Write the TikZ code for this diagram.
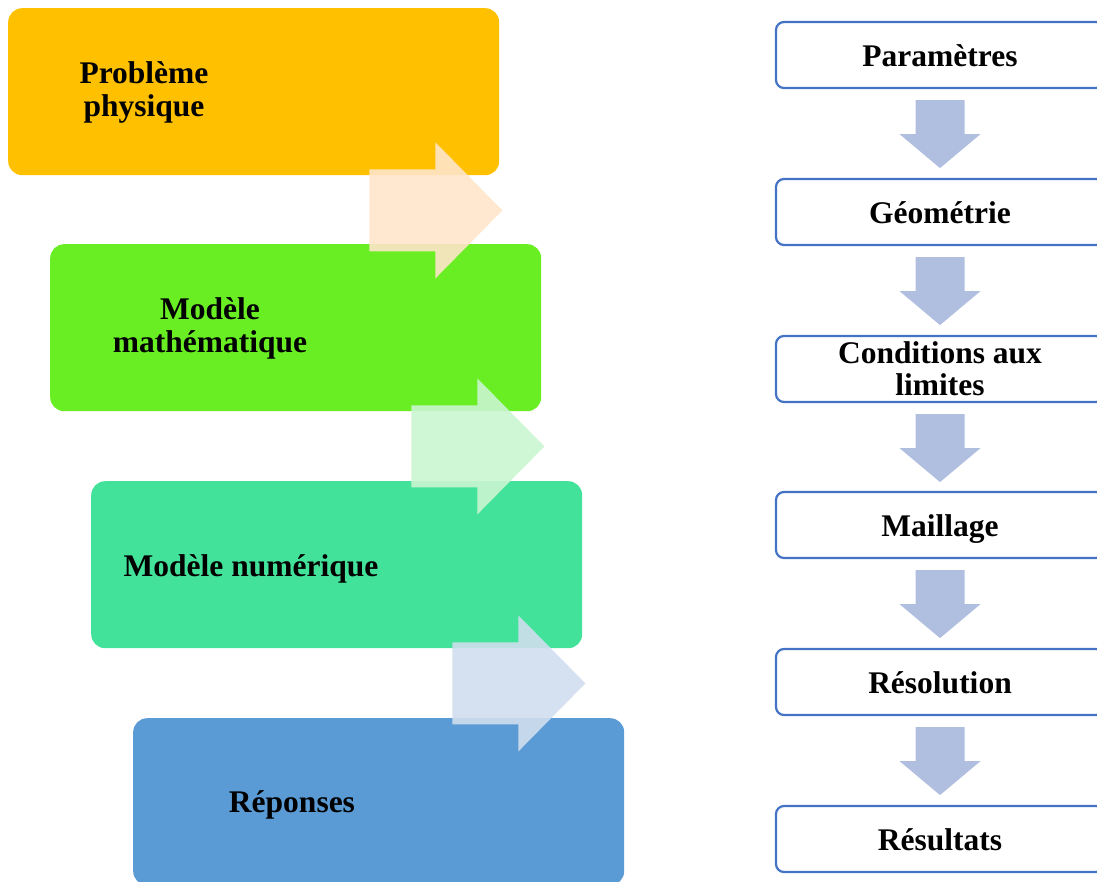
\documentclass[tikz,border=0pt]{standalone}
\usepackage{fontspec}
\setmainfont{Liberation Serif}
\usetikzlibrary{calc}
\definecolor{cOrange}{RGB}{255,192,0}
\definecolor{cGreen}{RGB}{104,238,34}
\definecolor{cTeal}{RGB}{66,226,154}
\definecolor{cBlue}{RGB}{91,155,213}
\definecolor{aPeach}{RGB}{255,229,202}
\definecolor{aMint}{RGB}{202,245,208}
\definecolor{aSky}{RGB}{208,222,238}
\definecolor{rBorder}{RGB}{68,114,196}
\definecolor{dArrow}{RGB}{176,190,224}
\tikzset{
  lbox/.style={rectangle, rounded corners=14pt, draw=none, anchor=north west,
    minimum width=491pt, minimum height=167pt, inner sep=0pt},
  ltext/.style={font=\fontsize{31.5}{33}\selectfont\bfseries, align=center, inner sep=0pt},
  oneline/.style={text height=28.5pt, text depth=5.5pt},
  rbox/.style={rectangle, rounded corners=8pt, draw=rBorder, line width=2.2pt, fill=white,
    minimum width=328pt, minimum height=66pt, inner sep=0pt,
    font=\fontsize{31.5}{32}\selectfont\bfseries, align=center},
  rarrow/.pic={\fill[pic actions] (0,-41) -- (66,-41) -- (66,-68) -- (133,0) -- (66,68) -- (66,41) -- (0,41) -- cycle;},
  darrow/.pic={\fill[dArrow] (-24.5,0) -- (24.5,0) -- (24.5,34) -- (40.5,34) -- (0,68) -- (-40.5,34) -- (-24.5,34) -- cycle;}
}
\begin{document}
\begin{tikzpicture}[x=1pt,y=-1pt]
\useasboundingbox (0,0) rectangle (1097,882);
\clip (0,0) rectangle (1097,882);
% left column boxes
\node[lbox, fill=cOrange] (b1) at (8,8) {};
\node[lbox, fill=cGreen] (b2) at (50,244) {};
\node[lbox, fill=cTeal] (b3) at (91,481) {};
\node[lbox, fill=cBlue] (b4) at (133,718) {};
\node[ltext] (t1) at ($(b1.west)+(136,1)$) {Problème\\physique};
\node[ltext] (t2) at ($(b2.west)+(160,1)$) {Modèle\\mathématique};
\node[ltext, oneline] (t3) at ($(b3.west)+(160,0)$) {Modèle numérique};
\node[ltext, oneline] (t4) at ($(b4.west)+(159,-1)$) {Réponses};
% right-pointing block arrows
\pic[fill=aPeach, fill opacity=0.9] at ($(b1.south east)+(-130,35)$) {rarrow};
\pic[fill=aMint, fill opacity=0.9] at ($(b2.south east)+(-130,35)$) {rarrow};
\pic[fill=aSky, fill opacity=0.9] at ($(b3.south east)+(-130,35)$) {rarrow};
% right column
\node[rbox, oneline] (r1) at (940,55) {Paramètres};
\node[rbox, oneline] (r2) at (940,212) {Géométrie};
\node[rbox] (r3) at (940,369) {Conditions aux\\limites};
\node[rbox, oneline] (r4) at (940,525) {Maillage};
\node[rbox, oneline] (r5) at (940,682) {Résolution};
\node[rbox, oneline] (r6) at (940,839) {Résultats};
\foreach \a in {r1,r2,r3,r4,r5}{
  \pic at ($(\a.south)+(0,11)$) {darrow};
}
\end{tikzpicture}
\end{document}
